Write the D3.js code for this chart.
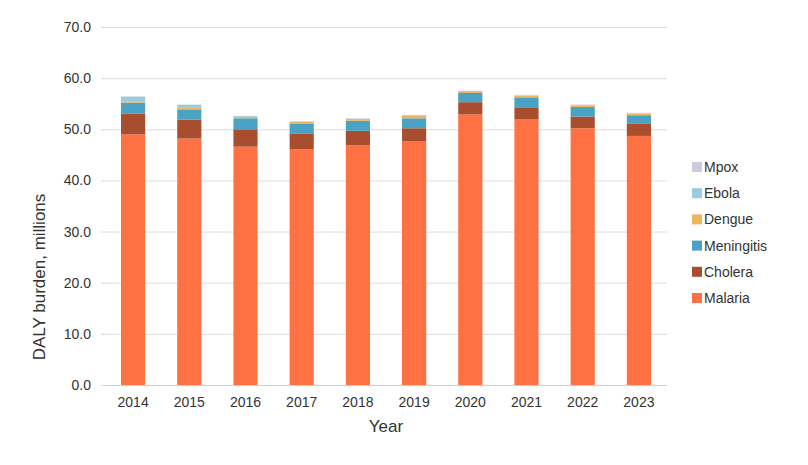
<!DOCTYPE html>
<html><head><meta charset="utf-8">
<script src="https://cdn.jsdelivr.net/npm/d3@7"></script>
<style>body{margin:0;background:#fff;} text{font-family:"Liberation Sans",Arial,sans-serif;}</style>
</head><body><svg id="c" width="808" height="465"></svg>
<script>
const years = ["2014","2015","2016","2017","2018","2019","2020","2021","2022","2023"];
const malaria    = [49.0, 48.2, 46.6, 46.1, 46.9, 47.7, 52.9, 52.0, 50.2, 48.7];
const cholera    = [4.1, 3.7, 3.4, 3.1, 2.8, 2.5, 2.4, 2.3, 2.3, 2.35];
const meningitis = [2.1, 2.0, 2.15, 1.95, 1.95, 1.95, 1.8, 1.95, 1.85, 1.7];
const dengue     = [0.3, 0.3, 0.3, 0.35, 0.35, 0.45, 0.35, 0.35, 0.35, 0.35];
const ebola      = [0.9, 0.6, 0.15, 0.05, 0.1, 0.15, 0.05, 0.02, 0.03, 0.02];
const mpox       = [0.02, 0.02, 0.02, 0.02, 0.02, 0.02, 0.05, 0.1, 0.1, 0.1];
const seriesNames = ["Malaria","Cholera","Meningitis","Dengue","Ebola","Mpox"];
const colors = ["#FF7043","#A84E2E","#4AA3C4","#EDB55E","#9CCBDE","#CEC9DF"];
const yTicks = [0,10,20,30,40,50,60,70];

const seriesVals = [malaria, cholera, meningitis, dengue, ebola, mpox];
const data = years.map((y,i)=>{const o={year:y}; seriesNames.forEach((s,j)=>o[s]=seriesVals[j][i]); return o;});
const stack = d3.stack().keys(seriesNames)(data);

const svg = d3.select("#c");
const m = {l:105, r:141, t:27, b:80};
const W = 808, H = 465;
const x = d3.scaleBand().domain(years).range([m.l, W-m.r]).paddingInner(0.57).paddingOuter(0.285);
const y = d3.scaleLinear().domain([0,70]).range([H-m.b, m.t]);

svg.append("g").selectAll("line").data(yTicks).join("line")
  .attr("x1", m.l).attr("x2", W-m.r)
  .attr("y1", d=>y(d)+0.5).attr("y2", d=>y(d)+0.5)
  .attr("stroke", d=>d===0?"#cfcfcf":"#dcdcdc").attr("stroke-width",1);

const ya = svg.append("g").attr("transform",`translate(${m.l},0)`)
  .call(d3.axisLeft(y).tickValues(yTicks).tickFormat(d3.format(".1f")).tickSize(4).tickPadding(10));
ya.select(".domain").remove();
ya.selectAll("line").attr("stroke","#d9d9d9");
ya.selectAll("text").attr("font-size",14).attr("fill","#333").attr("font-family","Liberation Sans, Arial, sans-serif");

svg.append("g").selectAll("g").data(stack).join("g")
  .attr("fill",(d,i)=>colors[i])
  .selectAll("rect").data(d=>d).join("rect")
  .attr("x", d=>x(d.data.year)).attr("width", x.bandwidth())
  .attr("y", d=>y(d[1])).attr("height", d=>Math.max(0,y(d[0])-y(d[1])));

const xa = svg.append("g").attr("transform",`translate(0,${H-m.b})`)
  .call(d3.axisBottom(x).tickSize(0).tickPadding(12));
xa.select(".domain").remove();
xa.selectAll("text").attr("font-size",14).attr("fill","#333").attr("font-family","Liberation Sans, Arial, sans-serif");

svg.append("text").attr("x",(m.l+W-m.r)/2).attr("y",432).attr("text-anchor","middle")
  .attr("font-size",17).attr("fill","#333").text("Year");
svg.append("text").attr("transform",`translate(45,277) rotate(-90)`).attr("text-anchor","middle")
  .attr("font-size",17).attr("fill","#333").text("DALY burden, millions");

const leg = svg.append("g");
const order = seriesNames.slice().reverse();
order.forEach((s,i)=>{
  const g = leg.append("g").attr("transform",`translate(692,${167+i*26.2})`);
  g.append("rect").attr("x",0).attr("y",-5).attr("width",10).attr("height",10).attr("fill",colors[seriesNames.indexOf(s)]);
  g.append("text").attr("x",12).attr("y",5).attr("font-size",14).attr("fill","#333").text(s);
});
</script></body></html>
